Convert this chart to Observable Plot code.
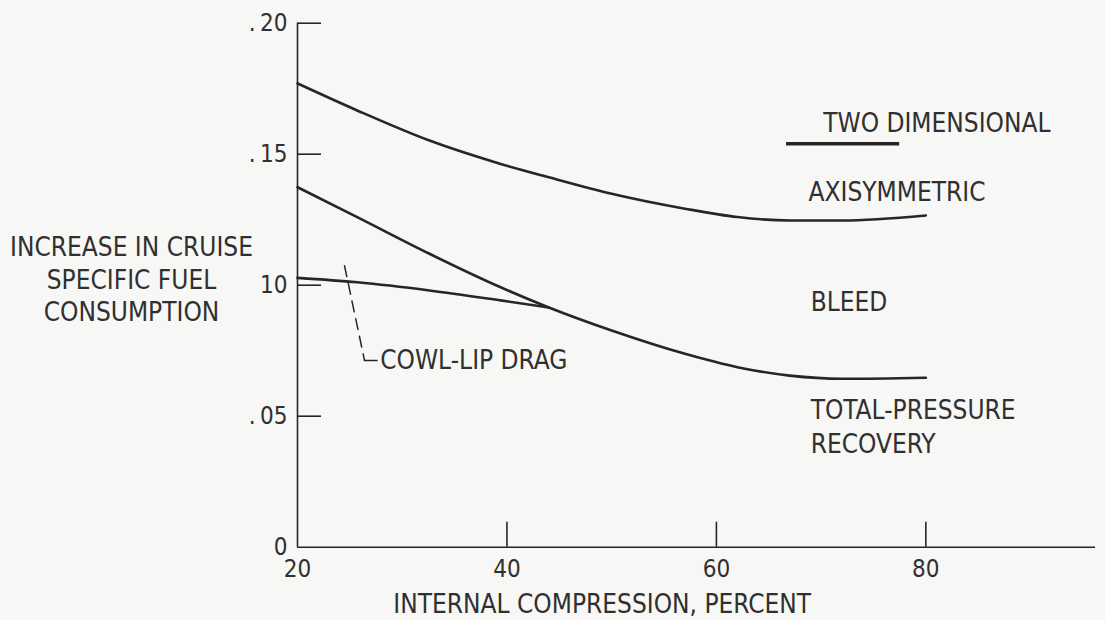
<!DOCTYPE html>
<html><head><meta charset="utf-8">
<script src="https://cdn.jsdelivr.net/npm/d3@7"></script>
<script src="https://cdn.jsdelivr.net/npm/@observablehq/plot@0.6"></script>
<style>
html,body{margin:0;padding:0;background:#f7f7f5;}
#chart{width:1105px;height:620px;}
</style></head><body><div id="chart"></div>
<script>
// Internal compression, percent
const compression = [20, 25.7, 32.6, 39.4, 44, 50, 57, 62, 67, 72, 80];
// Top curve (two dimensional / axisymmetric total)
const axisymmetricCurve = [0.177, 0.1667, 0.1552, 0.1463, 0.1412, 0.1349, 0.1292, 0.1260, 0.1247, 0.1247, 0.1266];
// Middle curve (bleed / total-pressure recovery boundary)
const bleedCurve = [0.1374, 0.126, 0.112, 0.0992, 0.0915, 0.0827, 0.0738, 0.0687, 0.0655, 0.0643, 0.0647];
// Cowl-lip drag curve (merges into middle curve)
const cowlCompression = [20, 25.7, 32.6, 39.4, 44];
const cowlLipCurve = [0.1028, 0.1011, 0.098, 0.0942, 0.0915];

const xTicks = [20, 40, 60, 80];
const xTickLabels = ["20", "40", "60", "80"];
const yTicks = [0, 0.05, 0.10, 0.15, 0.20];
const yTickLabels = ["0", ".\u200905", "10", ".\u200915", ".\u200920"];
const xDomain = [20, 96.2];
const yDomain = [0, 0.2];

const labelFont = 26;
const tickFont = 24;
const ink = "#262626";

const series = [
  ...compression.map((x, i) => ({x, y: axisymmetricCurve[i], s: "axisymmetric"})),
  ...compression.map((x, i) => ({x, y: bleedCurve[i], s: "bleed"})),
  ...cowlCompression.map((x, i) => ({x, y: cowlLipCurve[i], s: "cowl"}))
];

const chart = Plot.plot({
  width: 1105,
  height: 620,
  marginLeft: 297,
  marginRight: 10,
  marginTop: 22.7,
  marginBottom: 73.3,
  x: {domain: xDomain, axis: null},
  y: {domain: yDomain, axis: null},
  style: {background: "transparent", fontFamily: "'Liberation Sans Narrow', 'DejaVu Sans Condensed', 'Noto Sans', sans-serif", color: "#303030"},
  marks: [
    // axes
    Plot.ruleY([0], {x1: xDomain[0], x2: xDomain[1], stroke: ink, strokeWidth: 1.6}),
    Plot.ruleX([xDomain[0]], {y1: yDomain[0], y2: yDomain[1], stroke: ink, strokeWidth: 1.6}),
    Plot.ruleX(xTicks.slice(1), {y1: 0, y2: 0, insetTop: -25, stroke: ink, strokeWidth: 1.6}),
    Plot.ruleY(yTicks.slice(1), {x1: xDomain[0], x2: xDomain[0], insetRight: -24, stroke: ink, strokeWidth: 1.6}),
    Plot.text(xTicks, {x: d => d, y: 0, text: (d, i) => xTickLabels[i], dy: 22, fontSize: tickFont, lineAnchor: "middle"}),
    Plot.text(yTicks, {x: xDomain[0], y: d => d, text: (d, i) => yTickLabels[i], dx: -10, textAnchor: "end", fontSize: tickFont, lineAnchor: "middle"}),
    Plot.text(["INTERNAL COMPRESSION, PERCENT"], {x: 49.1, y: 0, dy: 57, fontSize: labelFont, lineAnchor: "middle"}),
    Plot.text(["INCREASE IN CRUISE\nSPECIFIC FUEL\nCONSUMPTION"], {x: 20, y: 0.1026, dx: -166, fontSize: labelFont, lineAnchor: "middle", lineHeight: 1.25, textAnchor: "middle"}),
    // curves
    Plot.line(series, {x: "x", y: "y", z: "s", curve: "monotone-x", stroke: ink, strokeWidth: 2.6}),
    // legend
    Plot.ruleY([0.154], {x1: 66.7, x2: 77.5, stroke: ink, strokeWidth: 3.5}),
    Plot.text(["TWO DIMENSIONAL"], {x: 70.2, y: 0.1617, textAnchor: "start", fontSize: labelFont, lineAnchor: "middle"}),
    Plot.text(["AXISYMMETRIC"], {x: 68.8, y: 0.1354, textAnchor: "start", fontSize: labelFont, lineAnchor: "middle"}),
    Plot.text(["BLEED"], {x: 69.0, y: 0.0934, textAnchor: "start", fontSize: labelFont, lineAnchor: "middle"}),
    Plot.text(["TOTAL-PRESSURE\nRECOVERY"], {x: 69.0, y: 0.0465, textAnchor: "start", fontSize: labelFont, lineAnchor: "middle", lineHeight: 1.3}),
    // cowl-lip leader
    Plot.line([{x: 24.49, y: 0.1074}, {x: 26.4, y: 0.0713}], {x: "x", y: "y", stroke: ink, strokeWidth: 1.5, strokeDasharray: "11,7"}),
    Plot.line([{x: 26.4, y: 0.0713}, {x: 27.6, y: 0.0713}], {x: "x", y: "y", stroke: ink, strokeWidth: 1.5}),
    Plot.text(["COWL-LIP DRAG"], {x: 27.9, y: 0.0713, textAnchor: "start", fontSize: labelFont, lineAnchor: "middle"})
  ]
});
document.getElementById("chart").appendChild(chart);
</script>
</body></html>
